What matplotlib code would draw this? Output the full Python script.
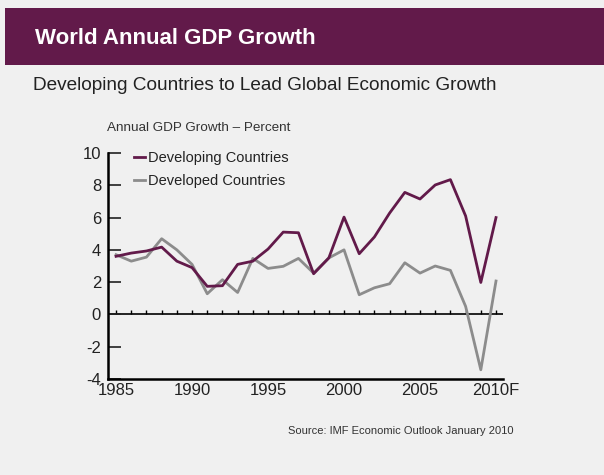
import numpy as np
import matplotlib
matplotlib.use('Agg')
import matplotlib.pyplot as plt
from matplotlib.patches import Rectangle

plt.rcParams['font.family'] = ['Liberation Sans', 'DejaVu Sans']
plt.rcParams['axes.unicode_minus'] = False

YEARS = list(range(1985, 2011))
DEVELOPING = [3.6, 3.8, 3.93, 4.17, 3.3, 2.9, 1.74, 1.78, 3.1, 3.3, 4.05, 5.1, 5.06,
              2.52, 3.5, 6.03, 3.76, 4.8, 6.28, 7.56, 7.15, 8.02, 8.35, 6.1, 1.98, 6.0]
DEVELOPED = [3.7, 3.3, 3.55, 4.69, 4.0, 3.1, 1.28, 2.15, 1.36, 3.47, 2.85, 2.98, 3.47,
             2.56, 3.5, 4.0, 1.22, 1.65, 1.9, 3.2, 2.56, 3.0, 2.73, 0.5, -3.43, 2.07]
XTICKS = [1985, 1990, 1995, 2000, 2005, 2010]
XLABELS = ['1985', '1990', '1995', '2000', '2005', '2010F']
YTICKS = [-4, -2, 0, 2, 4, 6, 8, 10]

PURPLE = '#621a4a'
GRAY = '#8c8c8c'
BG = '#f0f0f0'
TXT = '#222222'

fig = plt.figure(figsize=(6.04, 4.75), dpi=100, facecolor=BG)
fig.patches.append(Rectangle((5/604, 1 - 65/475), 1, 57/475, transform=fig.transFigure,
                             facecolor=PURPLE, edgecolor='none', zorder=0))
fig.text(35/604, 1 - 38/475, 'World Annual GDP Growth', color='white', fontsize=16,
         fontweight='bold', va='center', ha='left')
fig.text(33/604, 1 - 85/475, 'Developing Countries to Lead Global Economic Growth',
         color=TXT, fontsize=13.7, va='center', ha='left')
fig.text(107/604, 1 - 128/475, 'Annual GDP Growth \u2013 Percent', color='#333333',
         fontsize=9.7, va='center', ha='left')
fig.text(288/604, 1 - 431/475, 'Source: IMF Economic Outlook January 2010', color='#333333',
         fontsize=8, va='center', ha='left')

ax = fig.add_axes([108/604, 96/475, 395/604, 226/475])
ax.set_facecolor(BG)
ax.plot(YEARS, DEVELOPING, color=PURPLE, lw=2.0, label='Developing Countries', zorder=3)
ax.plot(YEARS, DEVELOPED, color=GRAY, lw=2.0, label='Developed Countries', zorder=2)

# zero line with small year ticks
ax.axhline(0, color='black', lw=1.2, zorder=1)
ax.vlines(YEARS, 0, 0.3, color='black', lw=1.0, zorder=1)

ax.set_xlim(1984.47, 2010.46)
ax.set_ylim(-4, 10)
ax.set_xticks(XTICKS)
ax.set_xticklabels(XLABELS)
ax.set_yticks(YTICKS)
ax.tick_params(axis='x', length=0, pad=3, labelsize=12, colors=TXT)
ax.tick_params(axis='y', direction='in', length=9, width=1.2, pad=5, labelsize=12,
               colors=TXT)
for s in ['top', 'right']:
    ax.spines[s].set_visible(False)
for s in ['left', 'bottom']:
    ax.spines[s].set_linewidth(1.8)

leg = ax.legend(loc='upper left', bbox_to_anchor=(0.05, 1.035), frameon=False, fontsize=10.5,
                handlelength=0.8, handletextpad=0.2, labelspacing=0.62, borderaxespad=0)
for t in leg.get_texts():
    t.set_color(TXT)

plt.savefig('out.png', dpi=100, facecolor=BG)
plt.close()
